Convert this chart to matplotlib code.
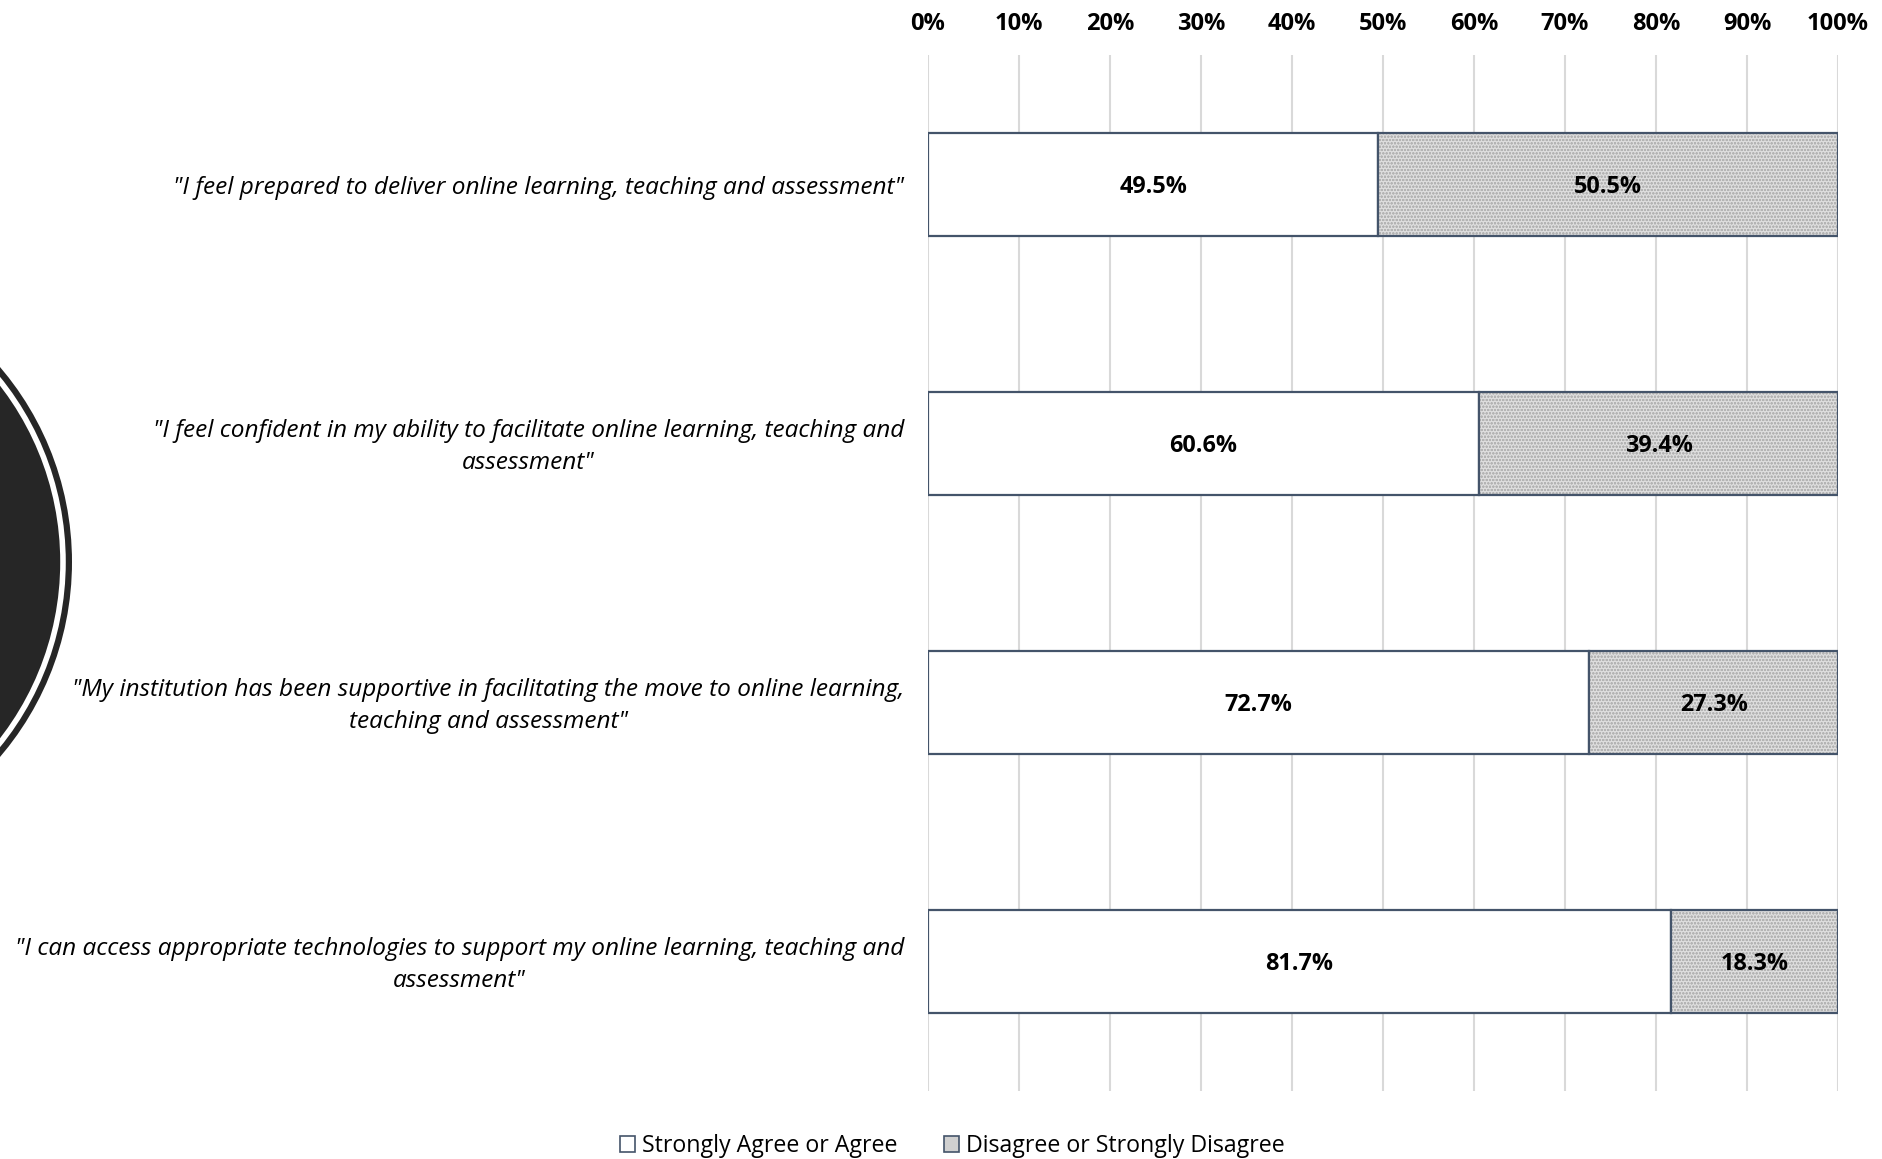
import matplotlib
matplotlib.use("Agg")
import matplotlib.pyplot as plt
from matplotlib.patches import Circle, Patch

statements = [
    '"I feel prepared to deliver online learning, teaching and assessment"',
    '"I feel confident in my ability to facilitate online learning, teaching and\nassessment"',
    '"My institution has been supportive in facilitating the move to online learning,\nteaching and assessment"',
    '"I can access appropriate technologies to support my online learning, teaching and\nassessment"',
]
agree = [49.5, 60.6, 72.7, 81.7]
disagree = [50.5, 39.4, 27.3, 18.3]
ticks = [0, 10, 20, 30, 40, 50, 60, 70, 80, 90, 100]

edge = "#44546a"
plt.rcParams["font.family"] = ["Open Sans", "DejaVu Sans"]

fig = plt.figure(figsize=(18.82, 11.59), dpi=100)

# decorative ring on the left edge, in pixel coordinates
bg = fig.add_axes([0, 0, 1, 1], zorder=0)
bg.set_xlim(0, 1882)
bg.set_ylim(1159, 0)
bg.axis("off")
bg.add_patch(Circle((-228, 562), 300, facecolor="#262626", edgecolor="none"))
bg.add_patch(Circle((-228, 562), 291, facecolor="none", edgecolor="white", lw=4))

ax = fig.add_axes([0.493, 0.0585, 0.4836, 0.894], zorder=1)
ax.patch.set_alpha(0)
y = list(range(len(statements)))
h = 0.4

ax.barh(y, agree, height=h, color="white", edgecolor=edge, lw=1.6, zorder=3)
plt.rcParams["hatch.linewidth"] = 0.6
ax.barh(y, disagree, left=agree, height=h, color="#dedede", edgecolor="#b4b4b4",
        hatch="ooooo", lw=0, zorder=3)
ax.barh(y, disagree, left=agree, height=h, color="none", edgecolor=edge, lw=1.6, zorder=4)

for i in y:
    ax.text(agree[i] / 2, i + 0.01, f"{agree[i]:.1f}%", ha="center", va="center",
            fontsize=16.8, fontweight="bold", zorder=5)
    ax.text(agree[i] + disagree[i] / 2, i + 0.01, f"{disagree[i]:.1f}%", ha="center",
            va="center", fontsize=16.8, fontweight="bold", zorder=5)
    ax.text(-2.6, i + 0.012, statements[i], ha="right", va="center", fontsize=17.6,
            style="italic", linespacing=1.45, multialignment="center")

ax.set_xlim(0, 100)
ax.set_ylim(3.5, -0.5)
ax.set_xticks(ticks)
ax.set_xticklabels([f"{t}%" for t in ticks], fontsize=17, fontweight="bold")
ax.xaxis.tick_top()
ax.tick_params(axis="x", length=0, pad=14)
ax.set_yticks([])
ax.grid(axis="x", color="#d9d9d9", lw=1.5, zorder=0)
for s in ax.spines.values():
    s.set_visible(False)

handles = [
    Patch(facecolor="white", edgecolor=edge, lw=1.2, label="Strongly Agree or Agree"),
    Patch(facecolor="#d0d0d0", edgecolor=edge, lw=1.2, label="Disagree or Strongly Disagree"),
]
fig.legend(handles=handles, loc="center", bbox_to_anchor=(0.506, 0.011), ncol=2,
           frameon=False, fontsize=16.7, handlelength=0.65, handleheight=0.65,
           handletextpad=0.3, columnspacing=2.0)

fig.savefig("out.png", dpi=100)
